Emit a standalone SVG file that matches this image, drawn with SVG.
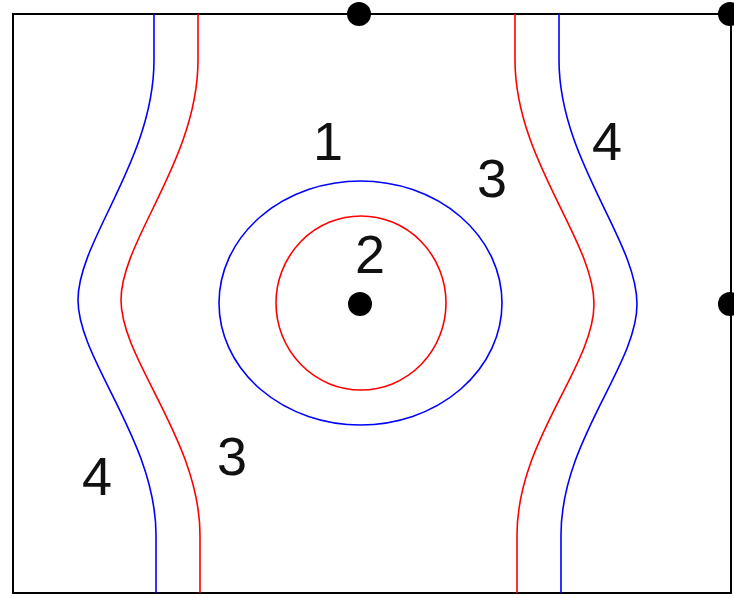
<svg xmlns="http://www.w3.org/2000/svg" width="734" height="598" viewBox="0 0 734 598">
<style>
.frame{fill:none;stroke:#000;stroke-width:2}
.b{fill:none;stroke:#0000ff;stroke-width:1.6}
.r{fill:none;stroke:#ff0000;stroke-width:1.6}
.dot{fill:#000}
.lbl{font-family:"Liberation Sans",Arial,sans-serif;font-size:54px;fill:#111;text-anchor:middle}
</style>
<rect class="frame" x="13" y="14" width="718" height="579"/>
<g id="connectors">
<path id="left-blue" class="b" d="M154,14 L154,60 C154,160 78,240 78,300 C78,360 156,440 156,535 L156,593"/>
<path id="left-red" class="r" d="M198,14 L198,60 C198,160 121,240 121,300 C121,360 200,440 200,535 L200,593"/>
<path id="right-red" class="r" d="M515,14 L515,60 C515,160 594,240 594,304 C594,366 517,440 517,535 L517,593"/>
<path id="right-blue" class="b" d="M559,14 L559,60 C559,160 637,240 637,304 C637,366 561,440 561,535 L561,593"/>
<ellipse id="outer-ellipse" class="b" cx="360.5" cy="303" rx="141.5" ry="122"/>
<ellipse id="inner-circle" class="r" cx="361" cy="303" rx="85" ry="87"/>
</g>
<g id="dot-top-mid"><circle class="dot" cx="359" cy="14" r="12"/></g>
<g id="dot-top-right"><circle class="dot" cx="730" cy="14" r="12"/></g>
<g id="dot-center"><circle class="dot" cx="360" cy="304" r="12"/></g>
<g id="dot-right"><circle class="dot" cx="730" cy="304" r="12"/></g>
<g id="labels">
<text class="lbl" x="328" y="160">1</text>
<text class="lbl" x="492" y="197">3</text>
<text class="lbl" x="370" y="273">2</text>
<text class="lbl" x="607" y="160">4</text>
<text class="lbl" x="232" y="475">3</text>
<text class="lbl" x="97" y="495">4</text>
</g>
</svg>
